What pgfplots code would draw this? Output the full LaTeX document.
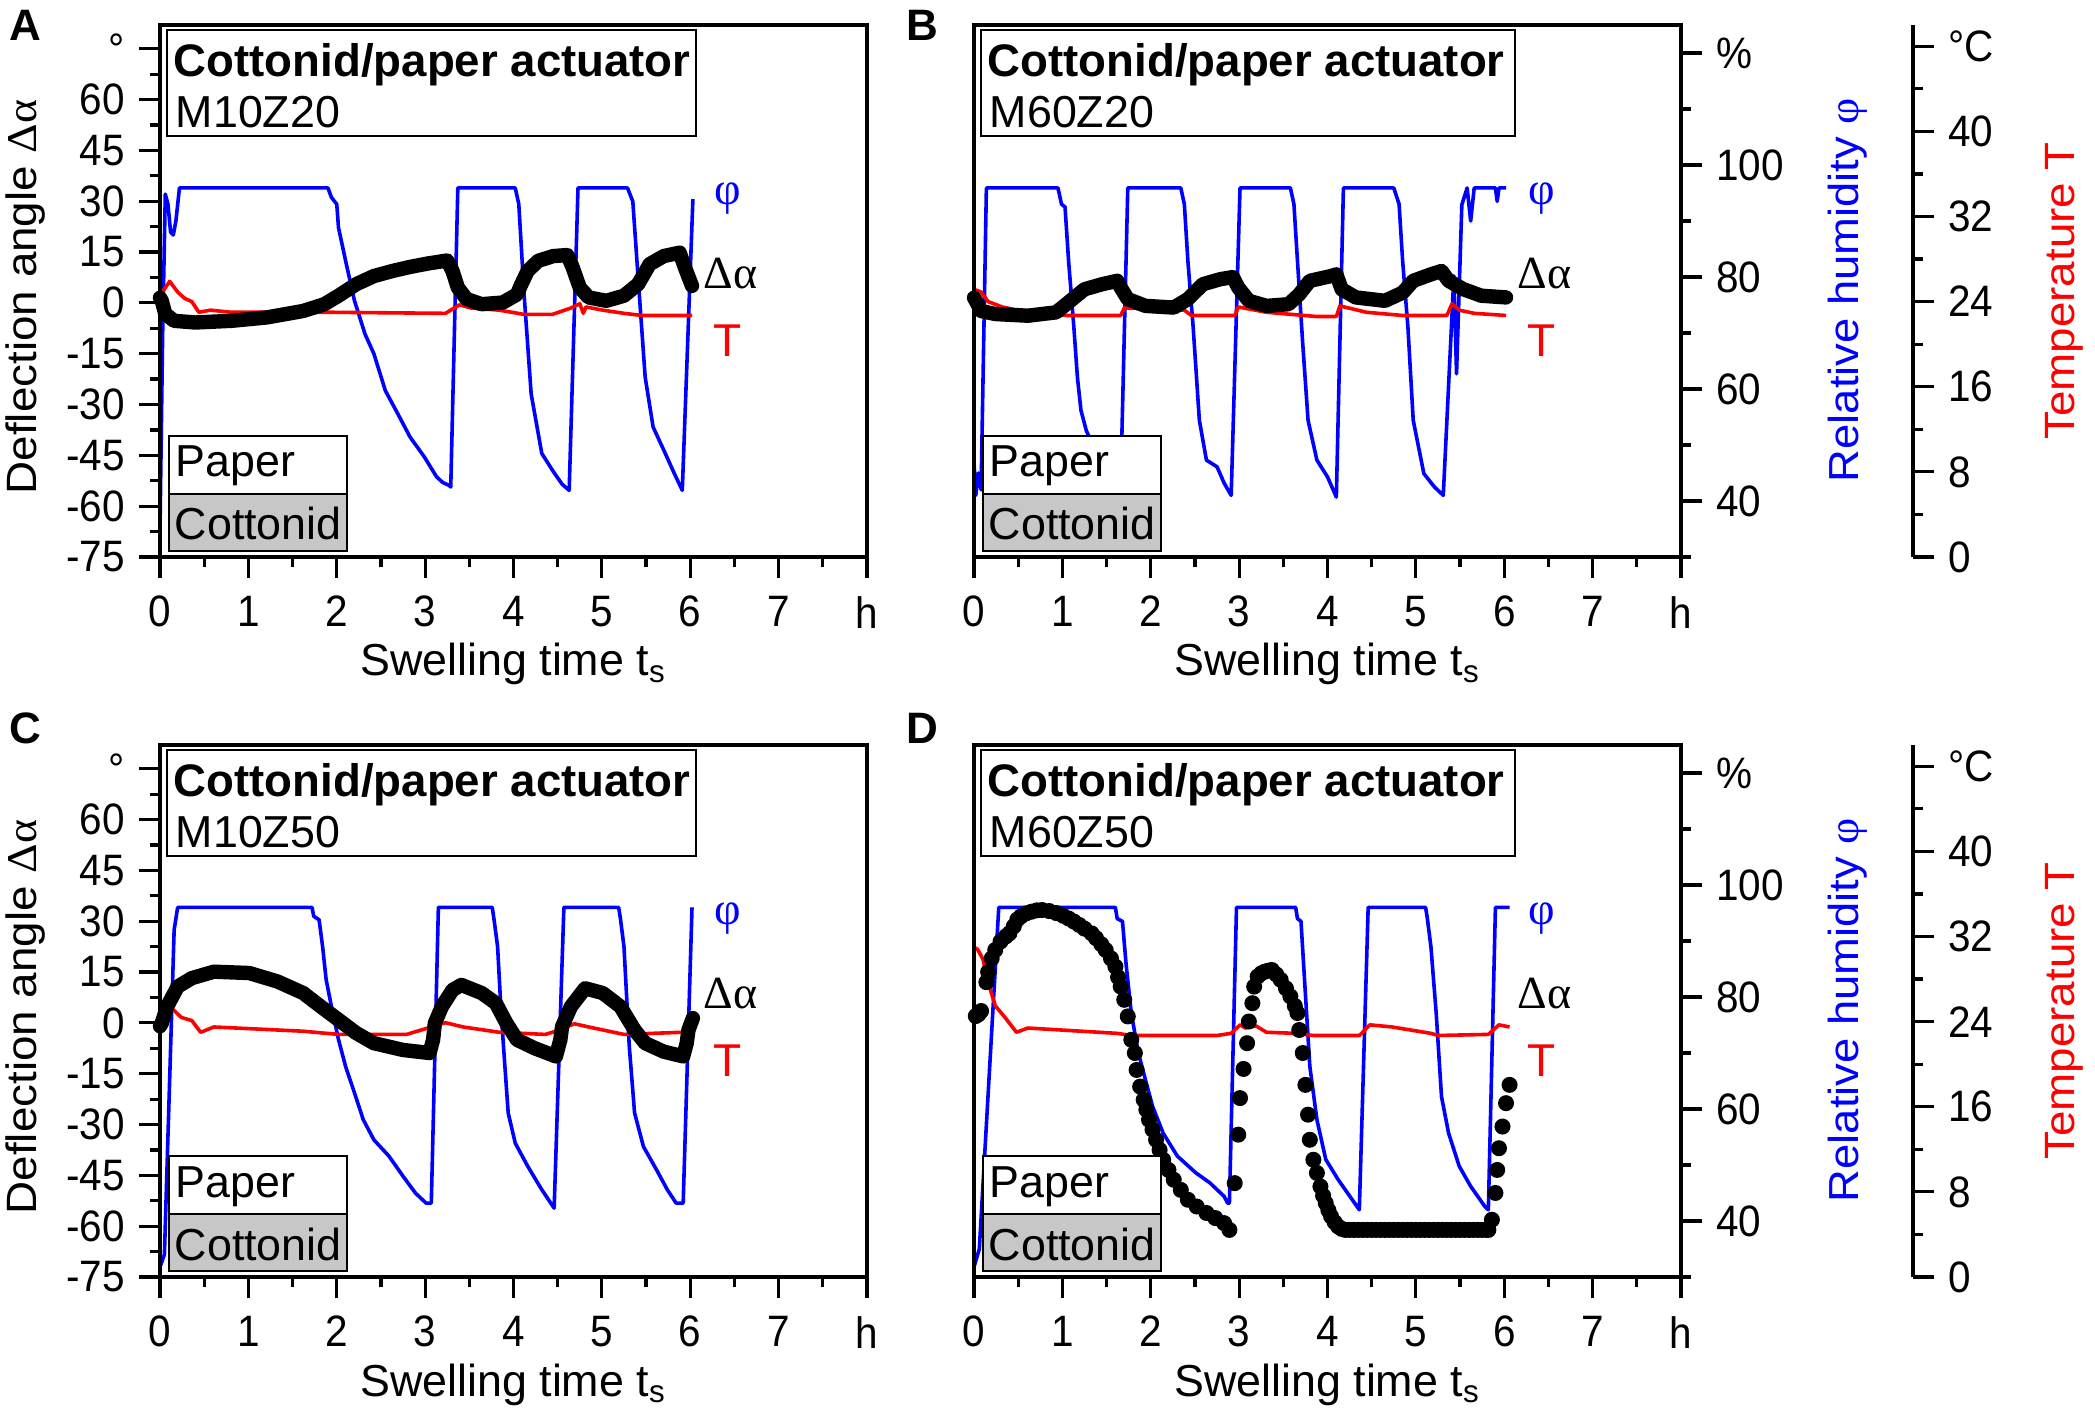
\documentclass[border=0pt]{standalone}
\usepackage{fontspec}
\setmainfont{Liberation Sans}
\newfontfamily\tickfont{Liberation Sans}[FakeStretch=0.92]
\newfontfamily\rotfont{Liberation Sans}[FakeStretch=1.08]
\newfontfamily\greek{Liberation Serif}
\newfontfamily\rotgreek{Liberation Serif}[FakeStretch=1.08]
\usepackage{pgfplots}
\pgfplotsset{compat=1.18}

\pgfplotsset{
  panel/.style={scale only axis, width=176.75pt, height=133pt, xmin=0, xmax=8, clip=false,
    axis line style={line width=0.8pt}, every tick/.style={black, line width=0.8pt},
    tick align=outside, major tick length=5.25pt, minor tick length=2.6pt,
    tick label style={font=\tickfont\fontsize{11}{13}\selectfont},
    xticklabel style={yshift=-1pt},
    /pgf/number format/assume math mode=true, anchor=south west},
  defl/.style={panel, ymin=-75, ymax=82,
    xtick={0,1,2,3,4,5,6,7,8}, xticklabels={0,1,2,3,4,5,6,7,h},
    minor xtick={0.5,1.5,2.5,3.5,4.5,5.5,6.5,7.5}, xtick pos=lower},
  leftdefl/.style={ytick={-75,-60,-45,-30,-15,0,15,30,45,60,75},
    yticklabels={-75,-60,-45,-30,-15,0,15,30,45,60,\textdegree},
    minor ytick={-67.5,-52.5,-37.5,-22.5,-7.5,7.5,22.5,37.5,52.5,67.5}, ytick pos=left},
  nodefl/.style={ytick=\empty},
  hum/.style={panel, ymin=30, ymax=125},
  humaxis/.style={hum, axis x line=none, axis y line*=right,
    ytick={40,60,80,100,120}, yticklabels={40,60,80,100,\%},
    minor ytick={30,50,70,90,110}},
  temp/.style={panel, ymin=0, ymax=50, hide axis},
  tempaxis/.style={scale only axis, width=10pt, height=133pt, xmin=0, xmax=1, ymin=0, ymax=50,
    axis line style={line width=0.8pt}, every tick/.style={black, line width=0.8pt},
    tick align=outside, major tick length=5.25pt, minor tick length=2.6pt,
    tick label style={font=\tickfont\fontsize{11}{13}\selectfont},
    axis x line=none, axis y line*=right, anchor=south west,
    ytick={0,8,16,24,32,40,48}, yticklabels={0,8,16,24,32,40,\textdegree C},
    minor ytick={4,12,20,28,36,44}},
  philine/.style={blue, line width=0.9pt, line join=round},
  tline/.style={red, line width=0.9pt, line join=round},
  daline/.style={black, line width=3.6pt, line join=round, line cap=round},
}

\newcommand{\panelextras}[4]{%
  \begin{scope}[shift={(#1,#2)}]
    \draw[line width=0.5pt, fill=white] (1.75pt,105.25pt) rectangle (#3,131.75pt);
    \node[anchor=base west, inner sep=0pt, font=\bfseries\fontsize{11.4}{13}\selectfont] at (3.25pt,120pt) {Cottonid/paper actuator};
    \node[anchor=base west, inner sep=0pt, font=\fontsize{11.2}{13}\selectfont] at (3.75pt,107.25pt) {#4};
    \draw[line width=0.5pt, fill=white] (2.25pt,15.75pt) rectangle (46.75pt,30.25pt);
    \draw[line width=0.5pt, fill=black!22] (2.25pt,1.5pt) rectangle (46.75pt,15.75pt);
    \node[anchor=base west, inner sep=0pt, font=\fontsize{11.2}{13}\selectfont] at (3.75pt,20pt) {Paper};
    \node[anchor=base west, inner sep=0pt, font=\fontsize{11.2}{13}\selectfont] at (3.5pt,4.25pt) {Cottonid};
    \node[blue, inner sep=0pt, font=\greek\fontsize{11.5}{14}\selectfont] at (142pt,89.5pt) {φ};
    \node[black, anchor=west, inner sep=0pt, font=\greek\fontsize{11.5}{14}\selectfont] at (135.75pt,70.75pt) {Δα};
    \node[red, inner sep=0pt, font=\fontsize{11.5}{14}\selectfont] at (142pt,54pt) {T};
    \node[anchor=base, inner sep=0pt, font=\fontsize{11.2}{13}\selectfont] at (88.4pt,-29.75pt) {Swelling time t\textsubscript{s}};
  \end{scope}}

\begin{document}
\begin{tikzpicture}
\path[use as bounding box] (0,0) rectangle (523.75pt,353.25pt);

% ================= Panel A =================
\begin{axis}[hum, hide axis, at={(40pt,214pt)}]
\addplot[philine] coordinates {(0,35) (0.03,70) (0.06,94.8) (0.09,93) (0.12,88) (0.15,87.5) (0.18,90) (0.22,95.9)
 (1.90,95.9) (1.94,94.2) (2.00,93.0) (2.02,88.8) (2.10,82.9) (2.20,75.8) (2.32,69.8) (2.42,66.3) (2.55,59.7)
 (2.69,55.6) (2.83,51.4) (2.99,47.9) (3.13,44.3) (3.20,43.3) (3.27,42.8) (3.29,42.5) (3.37,95.9)
 (4.02,95.9) (4.06,93.0) (4.12,76.9) (4.20,59.1) (4.32,48.5) (4.44,45.5) (4.55,43) (4.63,41.9) (4.73,95.9)
 (5.29,95.9) (5.35,93.5) (5.41,79.9) (5.49,62.1) (5.58,53.2) (5.70,49.1) (5.82,44.9) (5.91,41.9) (6.03,93.9)};
\end{axis}
\begin{axis}[temp, at={(40pt,214pt)}]
\addplot[tline] coordinates {(0,24.6) (0.11,25.9) (0.20,24.9) (0.28,24.3) (0.36,24.0) (0.44,23.0) (0.57,23.2)
 (0.81,23.0) (1.94,23.0) (3.23,22.9) (3.39,23.7) (3.52,23.4) (3.84,23.2) (4.12,22.8) (4.44,22.8) (4.65,23.4)
 (4.75,23.8) (4.79,22.9) (4.82,23.5) (5.01,23.2) (5.25,22.9) (5.45,22.7) (6.02,22.7)};
\end{axis}
\begin{axis}[defl, leftdefl, at={(40pt,214pt)}]
\addplot[daline] coordinates {(0.00,1.5) (0.02,0.6) (0.06,-3.3) (0.16,-5.3) (0.40,-5.8) (0.81,-5.3) (1.21,-4.3)
 (1.62,-2.4) (1.86,-0.4) (2.02,2.1) (2.22,5.5) (2.42,7.9) (2.63,9.4) (2.83,10.6) (3.03,11.6) (3.25,12.5)
 (3.31,9.4) (3.37,4.5) (3.47,1.1) (3.64,-0.4) (3.88,0.1) (4.04,2.5) (4.08,5) (4.16,9.4) (4.28,12.4) (4.45,13.8)
 (4.61,14.1) (4.67,10.4) (4.75,4.5) (4.85,1.6) (5.05,0.6) (5.25,2.1) (5.41,5.5) (5.54,11.4) (5.70,13.8)
 (5.88,14.8) (5.94,10.4) (6.02,5.0)};
\end{axis}
\panelextras{40pt}{214pt}{134pt}{M10Z20}

% ================= Panel B =================
\begin{axis}[humaxis, at={(243.5pt,214pt)}]
\addplot[philine] coordinates {(0,47) (0.02,41) (0.05,45) (0.08,42) (0.14,95.9) (0.95,95.9) (0.99,93) (1.03,92.5)
 (1.07,82.9) (1.13,71) (1.17,62.1) (1.21,56.2) (1.27,52.6) (1.40,48) (1.55,45) (1.66,43) (1.74,95.9)
 (2.34,95.9) (2.38,93) (2.42,82.9) (2.48,71) (2.55,54.4) (2.63,47.3) (2.75,46.1) (2.83,43.2) (2.91,41.0) (3.01,95.9)
 (3.58,95.9) (3.62,93) (3.66,82.9) (3.72,68) (3.78,54.4) (3.88,47.3) (4.00,44.3) (4.10,40.7) (4.18,95.9)
 (4.75,95.9) (4.81,93) (4.85,82.9) (4.91,71) (4.97,54.4) (5.09,44.9) (5.21,42.5) (5.31,41.0) (5.43,80.2)
 (5.46,62.7) (5.52,92.9) (5.58,95.9) (5.62,90) (5.66,95.9) (5.90,95.9) (5.92,93.5) (5.94,95.9) (6.02,95.9)};
\end{axis}
\begin{axis}[temp, at={(243.5pt,214pt)}]
\addplot[tline] coordinates {(0,24.5) (0.02,25.1) (0.08,24.9) (0.16,24.0) (0.32,23.5) (0.60,23.0) (1.05,22.7)
 (1.66,22.7) (1.70,23.4) (2.38,23.2) (2.46,22.7) (2.95,22.7) (2.99,23.5) (3.31,23.0) (3.88,22.6) (4.10,22.6)
 (4.14,23.6) (4.44,23.0) (4.85,22.7) (5.35,22.7) (5.41,23.8) (5.49,23.2) (5.66,22.9) (6.02,22.7)};
\end{axis}
\begin{axis}[defl, nodefl, at={(243.5pt,214pt)}]
\addplot[daline] coordinates {(0.00,1.5) (0.02,0.6) (0.08,-2.4) (0.24,-3.3) (0.61,-3.8) (0.93,-2.8) (1.09,0.6)
 (1.25,4.0) (1.45,5.5) (1.62,6.5) (1.66,4.5) (1.74,1.1) (1.94,-0.9) (2.26,-1.4) (2.42,1.1) (2.59,5.5) (2.79,7.0)
 (2.93,7.6) (2.99,4.5) (3.11,0.6) (3.31,-0.9) (3.56,-0.4) (3.68,2.5) (3.80,6.5) (4.04,7.9) (4.10,8.4) (4.16,4.0)
 (4.32,1.6) (4.65,0.6) (4.85,3.0) (4.97,6.5) (5.17,8.4) (5.29,9.4) (5.37,6.5) (5.54,4.0) (5.74,2.1) (6.02,1.6)};
\end{axis}
\begin{axis}[tempaxis, at={(468.25pt,214pt)}]
\end{axis}
\panelextras{243.5pt}{214pt}{135.25pt}{M60Z20}

% ================= Panel C =================
\begin{axis}[hum, hide axis, at={(40pt,34pt)}]
\addplot[philine] coordinates {(0,31.8) (0.05,34) (0.16,92) (0.20,96) (1.72,96) (1.74,94.4) (1.80,93.8) (1.84,89)
 (1.88,83.1) (1.94,78.3) (2.02,72.4) (2.10,67.6) (2.20,62.9) (2.30,58.1) (2.42,54.5) (2.59,51.6) (2.75,48.0)
 (2.89,45.0) (3.01,43.2) (3.07,43.2) (3.15,96) (3.76,96) (3.78,93.8) (3.82,89) (3.86,77.2) (3.94,59.3) (4.02,53.9)
 (4.16,49.8) (4.32,45.6) (4.46,42.3) (4.57,96) (5.19,96) (5.21,94) (5.25,89) (5.31,71.2) (5.37,59.3) (5.47,53.3)
 (5.62,49.1) (5.74,45.6) (5.84,43.2) (5.92,43.2) (6.02,96)};
\end{axis}
\begin{axis}[temp, at={(40pt,34pt)}]
\addplot[tline] coordinates {(0,24.2) (0.04,24.7) (0.14,25.2) (0.24,24.4) (0.36,24.1) (0.46,23.0) (0.61,23.5)
 (1.62,23.1) (2.02,22.8) (2.79,22.8) (2.91,23.1) (3.23,23.9) (3.43,23.5) (3.84,23.0) (4.36,22.8) (4.44,23.0)
 (4.69,23.8) (4.85,23.5) (5.25,22.8) (5.90,23.0) (5.98,23.0)};
\end{axis}
\begin{axis}[defl, leftdefl, at={(40pt,34pt)}]
\addplot[daline] coordinates {(0.00,-1) (0.02,-0.1) (0.08,4.8) (0.20,10.7) (0.36,13.2) (0.61,15.1) (1.01,14.7)
 (1.33,12.2) (1.62,8.8) (1.82,4.8) (2.02,0.9) (2.22,-3.0) (2.42,-6.0) (2.75,-8.0) (3.05,-8.9) (3.09,-5.0)
 (3.11,-0.1) (3.19,4.8) (3.31,9.7) (3.41,11.2) (3.64,8.8) (3.80,5.8) (3.92,-0.1) (4.04,-5.0) (4.24,-7.5)
 (4.48,-9.9) (4.53,-5.0) (4.55,-1.1) (4.65,4.8) (4.81,10.2) (5.01,8.8) (5.21,4.8) (5.37,-2.1) (5.49,-6.0)
 (5.70,-8.5) (5.92,-9.9) (5.96,-6.0) (5.98,-2.1) (6.03,1.4)};
\end{axis}
\panelextras{40pt}{34pt}{134pt}{M10Z50}

% ================= Panel D =================
\begin{axis}[humaxis, at={(243.5pt,34pt)}]
\addplot[philine] coordinates {(0,31.8) (0.06,35) (0.28,96) (1.60,96) (1.62,94) (1.68,93.5) (1.72,86.0) (1.78,77.1)
 (1.86,70.0) (1.94,65.2) (2.02,60.5) (2.14,55.7) (2.30,51.6) (2.51,48.6) (2.67,46.8) (2.83,44.4) (2.87,43.2)
 (2.89,43.2) (2.97,96) (3.64,96) (3.66,94) (3.70,93.5) (3.74,83.1) (3.80,67.6) (3.88,58.1) (3.98,51.0) (4.12,47.4)
 (4.28,43.8) (4.36,42.0) (4.46,96) (5.11,96) (5.13,94) (5.17,89) (5.23,77.1) (5.29,62.2) (5.37,55.7) (5.49,49.8)
 (5.62,46.2) (5.78,42.6) (5.82,42.0) (5.90,96) (6.06,96)};
\end{axis}
\begin{axis}[temp, at={(243.5pt,34pt)}]
\addplot[tline] coordinates {(0,31.0) (0.04,30.8) (0.10,29.9) (0.16,27.7) (0.24,25.5) (0.36,24.3) (0.48,23.0)
 (0.61,23.4) (1.62,22.9) (1.78,22.7) (2.75,22.7) (2.91,22.9) (3.01,23.7) (3.07,23.4) (3.19,23.6) (3.31,23.0)
 (3.64,22.9) (3.84,22.7) (4.36,22.7) (4.48,23.7) (4.73,23.5) (5.17,22.9) (5.25,22.7) (5.82,22.8) (5.94,23.7) (6.06,23.5)};
\end{axis}
\begin{axis}[defl, nodefl, at={(243.5pt,34pt)}]
\addplot[only marks, mark=*, mark size=1.8pt, black] coordinates {(0.02,2.0) (0.05,2.5) (0.08,3.5) (0.14,12)
 (0.16,15) (0.20,19) (0.24,21.5) (0.30,24) (0.36,25.5) (0.40,26.4) (0.45,28.5) (0.49,30.5) (0.53,31.4) (0.59,32.3)
 (0.65,32.8) (0.71,33.2) (0.77,33.3) (0.85,33) (0.93,32.4) (1.01,31.6) (1.07,30.8) (1.13,29.9) (1.19,28.9)
 (1.25,27.8) (1.33,26.4) (1.38,25) (1.44,23.2) (1.49,21.5) (1.55,19) (1.60,16.6) (1.63,13.5) (1.66,10.7)
 (1.70,6.8) (1.74,1.9) (1.78,-5) (1.82,-8.9) (1.84,-13.9) (1.88,-18.8) (1.92,-22.7) (1.95,-25.6) (1.98,-28.6)
 (2.02,-31.5) (2.06,-34.5) (2.10,-37.5) (2.14,-40.4) (2.20,-43.4) (2.26,-46.3) (2.34,-49.3) (2.42,-52.2)
 (2.52,-54.2) (2.63,-56.1) (2.73,-57.6) (2.83,-59.1) (2.89,-61.1) (2.95,-47.3) (2.99,-33.0) (3.01,-22.2)
 (3.05,-13.6) (3.09,-6.0) (3.11,0.4) (3.15,5.8) (3.17,10.7) (3.21,13.7) (3.25,14.6) (3.29,15.1) (3.33,15.4)
 (3.37,15.6) (3.42,14.3) (3.47,12.7) (3.53,10.2) (3.58,7.8) (3.63,5.0) (3.66,2.9) (3.68,-2.1) (3.72,-8.9)
 (3.75,-18.3) (3.78,-27.1) (3.80,-34.5) (3.84,-40.4) (3.88,-44.3) (3.92,-48.3) (3.95,-51) (3.98,-53.2)
 (4.01,-55.3) (4.04,-57.1) (4.08,-58.8) (4.12,-60.1) (4.16,-60.8) (4.20,-61.1) (4.25,-61.1) (4.30,-61.1)
 (4.35,-61.1) (4.40,-61.1) (4.45,-61.1) (4.50,-61.1) (4.55,-61.1) (4.60,-61.1) (4.65,-61.1) (4.70,-61.1)
 (4.75,-61.1) (4.80,-61.1) (4.85,-61.1) (4.90,-61.1) (4.95,-61.1) (5.00,-61.1) (5.05,-61.1) (5.10,-61.1)
 (5.15,-61.1) (5.20,-61.1) (5.25,-61.1) (5.30,-61.1) (5.35,-61.1) (5.40,-61.1) (5.45,-61.1) (5.50,-61.1)
 (5.55,-61.1) (5.60,-61.1) (5.65,-61.1) (5.70,-61.1) (5.75,-61.1) (5.80,-61.1) (5.82,-61.1) (5.86,-58.1)
 (5.90,-50.2) (5.92,-43.4) (5.94,-37.0) (5.98,-30.6) (6.02,-23.7) (6.06,-18.3)};
\end{axis}
\begin{axis}[tempaxis, at={(468.25pt,34pt)}]
\end{axis}
\panelextras{243.5pt}{34pt}{135.25pt}{M60Z50}

% ================= Labels =================
\node[font=\bfseries\fontsize{11}{13}\selectfont] at (6.3pt,346.9pt) {A};
\node[font=\bfseries\fontsize{11}{13}\selectfont] at (230.5pt,346.9pt) {B};
\node[font=\bfseries\fontsize{11}{13}\selectfont] at (6.3pt,171.25pt) {C};
\node[font=\bfseries\fontsize{11}{13}\selectfont] at (230.5pt,171.25pt) {D};

\node[rotate=90, inner sep=0pt, font=\rotfont\fontsize{10.6}{13}\selectfont] at (6.5pt,279pt) {Deflection angle {\rotgreek Δα}};
\node[rotate=90, inner sep=0pt, font=\rotfont\fontsize{10.6}{13}\selectfont] at (6.5pt,99pt) {Deflection angle {\rotgreek Δα}};

\node[rotate=90, inner sep=0pt, blue, font=\rotfont\fontsize{10.5}{13}\selectfont] at (462pt,280.75pt) {Relative humidity {\rotgreek φ}};
\node[rotate=90, inner sep=0pt, blue, font=\rotfont\fontsize{10.5}{13}\selectfont] at (462pt,100.75pt) {Relative humidity {\rotgreek φ}};
\node[rotate=90, inner sep=0pt, red, font=\rotfont\fontsize{10.6}{13}\selectfont] at (516pt,280.5pt) {Temperature T};
\node[rotate=90, inner sep=0pt, red, font=\rotfont\fontsize{10.6}{13}\selectfont] at (516pt,100.5pt) {Temperature T};
\end{tikzpicture}
\end{document}
